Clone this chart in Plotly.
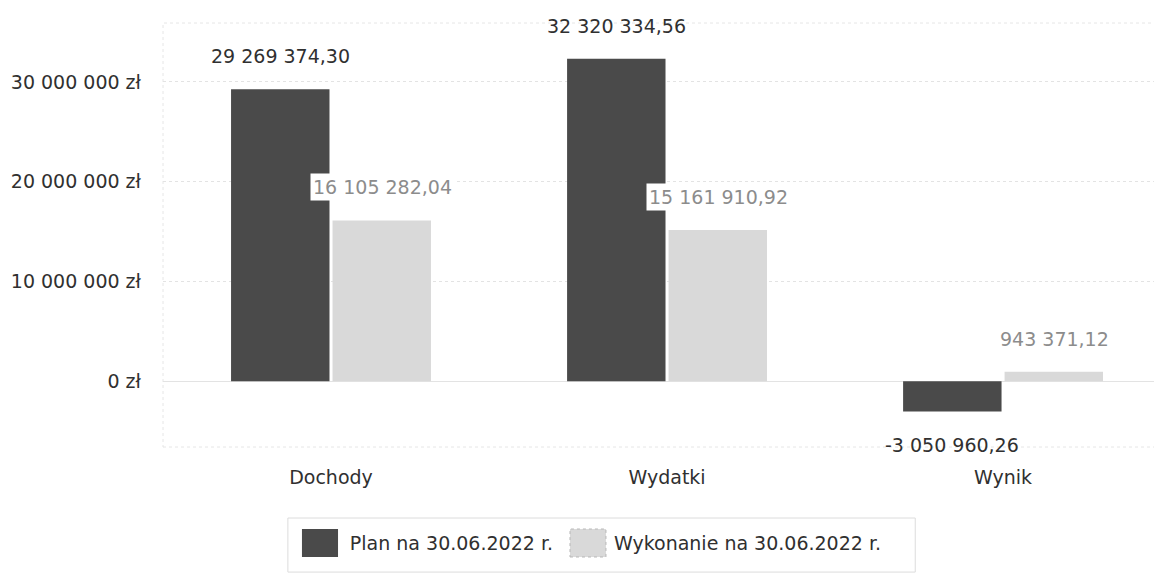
import plotly.graph_objects as go

categories = ["Dochody", "Wydatki", "Wynik"]
plan_name = "Plan na 30.06.2022 r."
wyk_name = "Wykonanie na 30.06.2022 r."
plan_values = [29269374.30, 32320334.56, -3050960.26]
wyk_values = [16105282.04, 15161910.92, 943371.12]
y_ticks = [0, 10000000, 20000000, 30000000]
y_tick_labels = ["0 zł", "10 000 000 zł", "20 000 000 zł", "30 000 000 zł"]

DARK = "#4a4a4a"
LIGHT = "#d9d9d9"
FONT = "DejaVu Sans"
FS = 19


def fmt(v):
    s = f"{abs(v):,.2f}".replace(",", " ").replace(".", ",")
    return ("-" if v < 0 else "") + s


fig = go.Figure()
fig.add_trace(go.Bar(x=categories, y=plan_values, name=plan_name,
                     marker=dict(color=DARK, line=dict(width=0))))
fig.add_trace(go.Bar(x=categories, y=wyk_values, name=wyk_name,
                     marker=dict(color=LIGHT, line=dict(width=0))))

for c, v in zip(categories, plan_values):
    fig.add_annotation(x=c, y=v, xref="x", yref="y", text=fmt(v), showarrow=False,
                       xshift=-51, yshift=33 if v >= 0 else -33,
                       font=dict(family=FONT, size=FS, color="#303030"))
for c, v in zip(categories, wyk_values):
    fig.add_annotation(x=c, y=v, xref="x", yref="y", text=fmt(v), showarrow=False,
                       xshift=51, yshift=33 if v >= 0 else -33, bgcolor="white",
                       borderpad=2,
                       font=dict(family=FONT, size=FS, color="#8c8c8c"))

# dotted plot border
fig.add_shape(type="rect", xref="paper", yref="paper", x0=0, x1=1, y0=0, y1=1,
              line=dict(color="#e6e6e6", width=1, dash="dot"), layer="below")
# legend frame
fig.add_shape(type="rect", xref="paper", yref="paper", x0=0.125, x1=0.753,
              y0=-0.295, y1=-0.1675, line=dict(color="#dcdcdc", width=1),
              fillcolor="rgba(0,0,0,0)", layer="below")
# larger legend swatches (behind the native legend symbols)
fig.add_shape(type="rect", xref="paper", yref="paper", x0=0.1391, x1=0.1752,
              y0=-0.2594, y1=-0.1934, line=dict(width=0), fillcolor=DARK, layer="above")
fig.add_shape(type="rect", xref="paper", yref="paper", x0=0.4074, x1=0.4434,
              y0=-0.2594, y1=-0.1934, line=dict(color="#b8b8b8", width=1, dash="dot"),
              fillcolor=LIGHT, layer="above")

fig.update_layout(
    width=1154, height=567,
    margin=dict(l=155, r=0, t=15, b=128, autoexpand=False),
    paper_bgcolor="white", plot_bgcolor="white",
    font=dict(family=FONT, size=FS, color="#303030"),
    barmode="group", bargap=0.396, bargroupgap=0.03,
    showlegend=True,
    legend=dict(orientation="h", x=0.131, xanchor="left", y=-0.182, yanchor="top",
                borderwidth=0, bgcolor="rgba(0,0,0,0)",
                font=dict(family=FONT, size=FS, color="#303030"),
                itemwidth=46),
    separators=", ",
)
fig.update_xaxes(range=[-0.5, 2.473], showgrid=False, showline=False, ticks="",
                 ticklabelstandoff=17, tickfont=dict(family=FONT, size=FS, color="#303030"))
fig.update_yaxes(range=[-6600000, 35900000], tickvals=y_ticks, ticktext=y_tick_labels,
                 showgrid=True, gridcolor="#e3e3e3", griddash="dot", gridwidth=1,
                 zeroline=True, zerolinecolor="#e3e3e3", zerolinewidth=1,
                 showline=False, ticks="", ticklabelstandoff=21,
                 tickfont=dict(family=FONT, size=FS, color="#303030"))

fig.write_html("out.html")
